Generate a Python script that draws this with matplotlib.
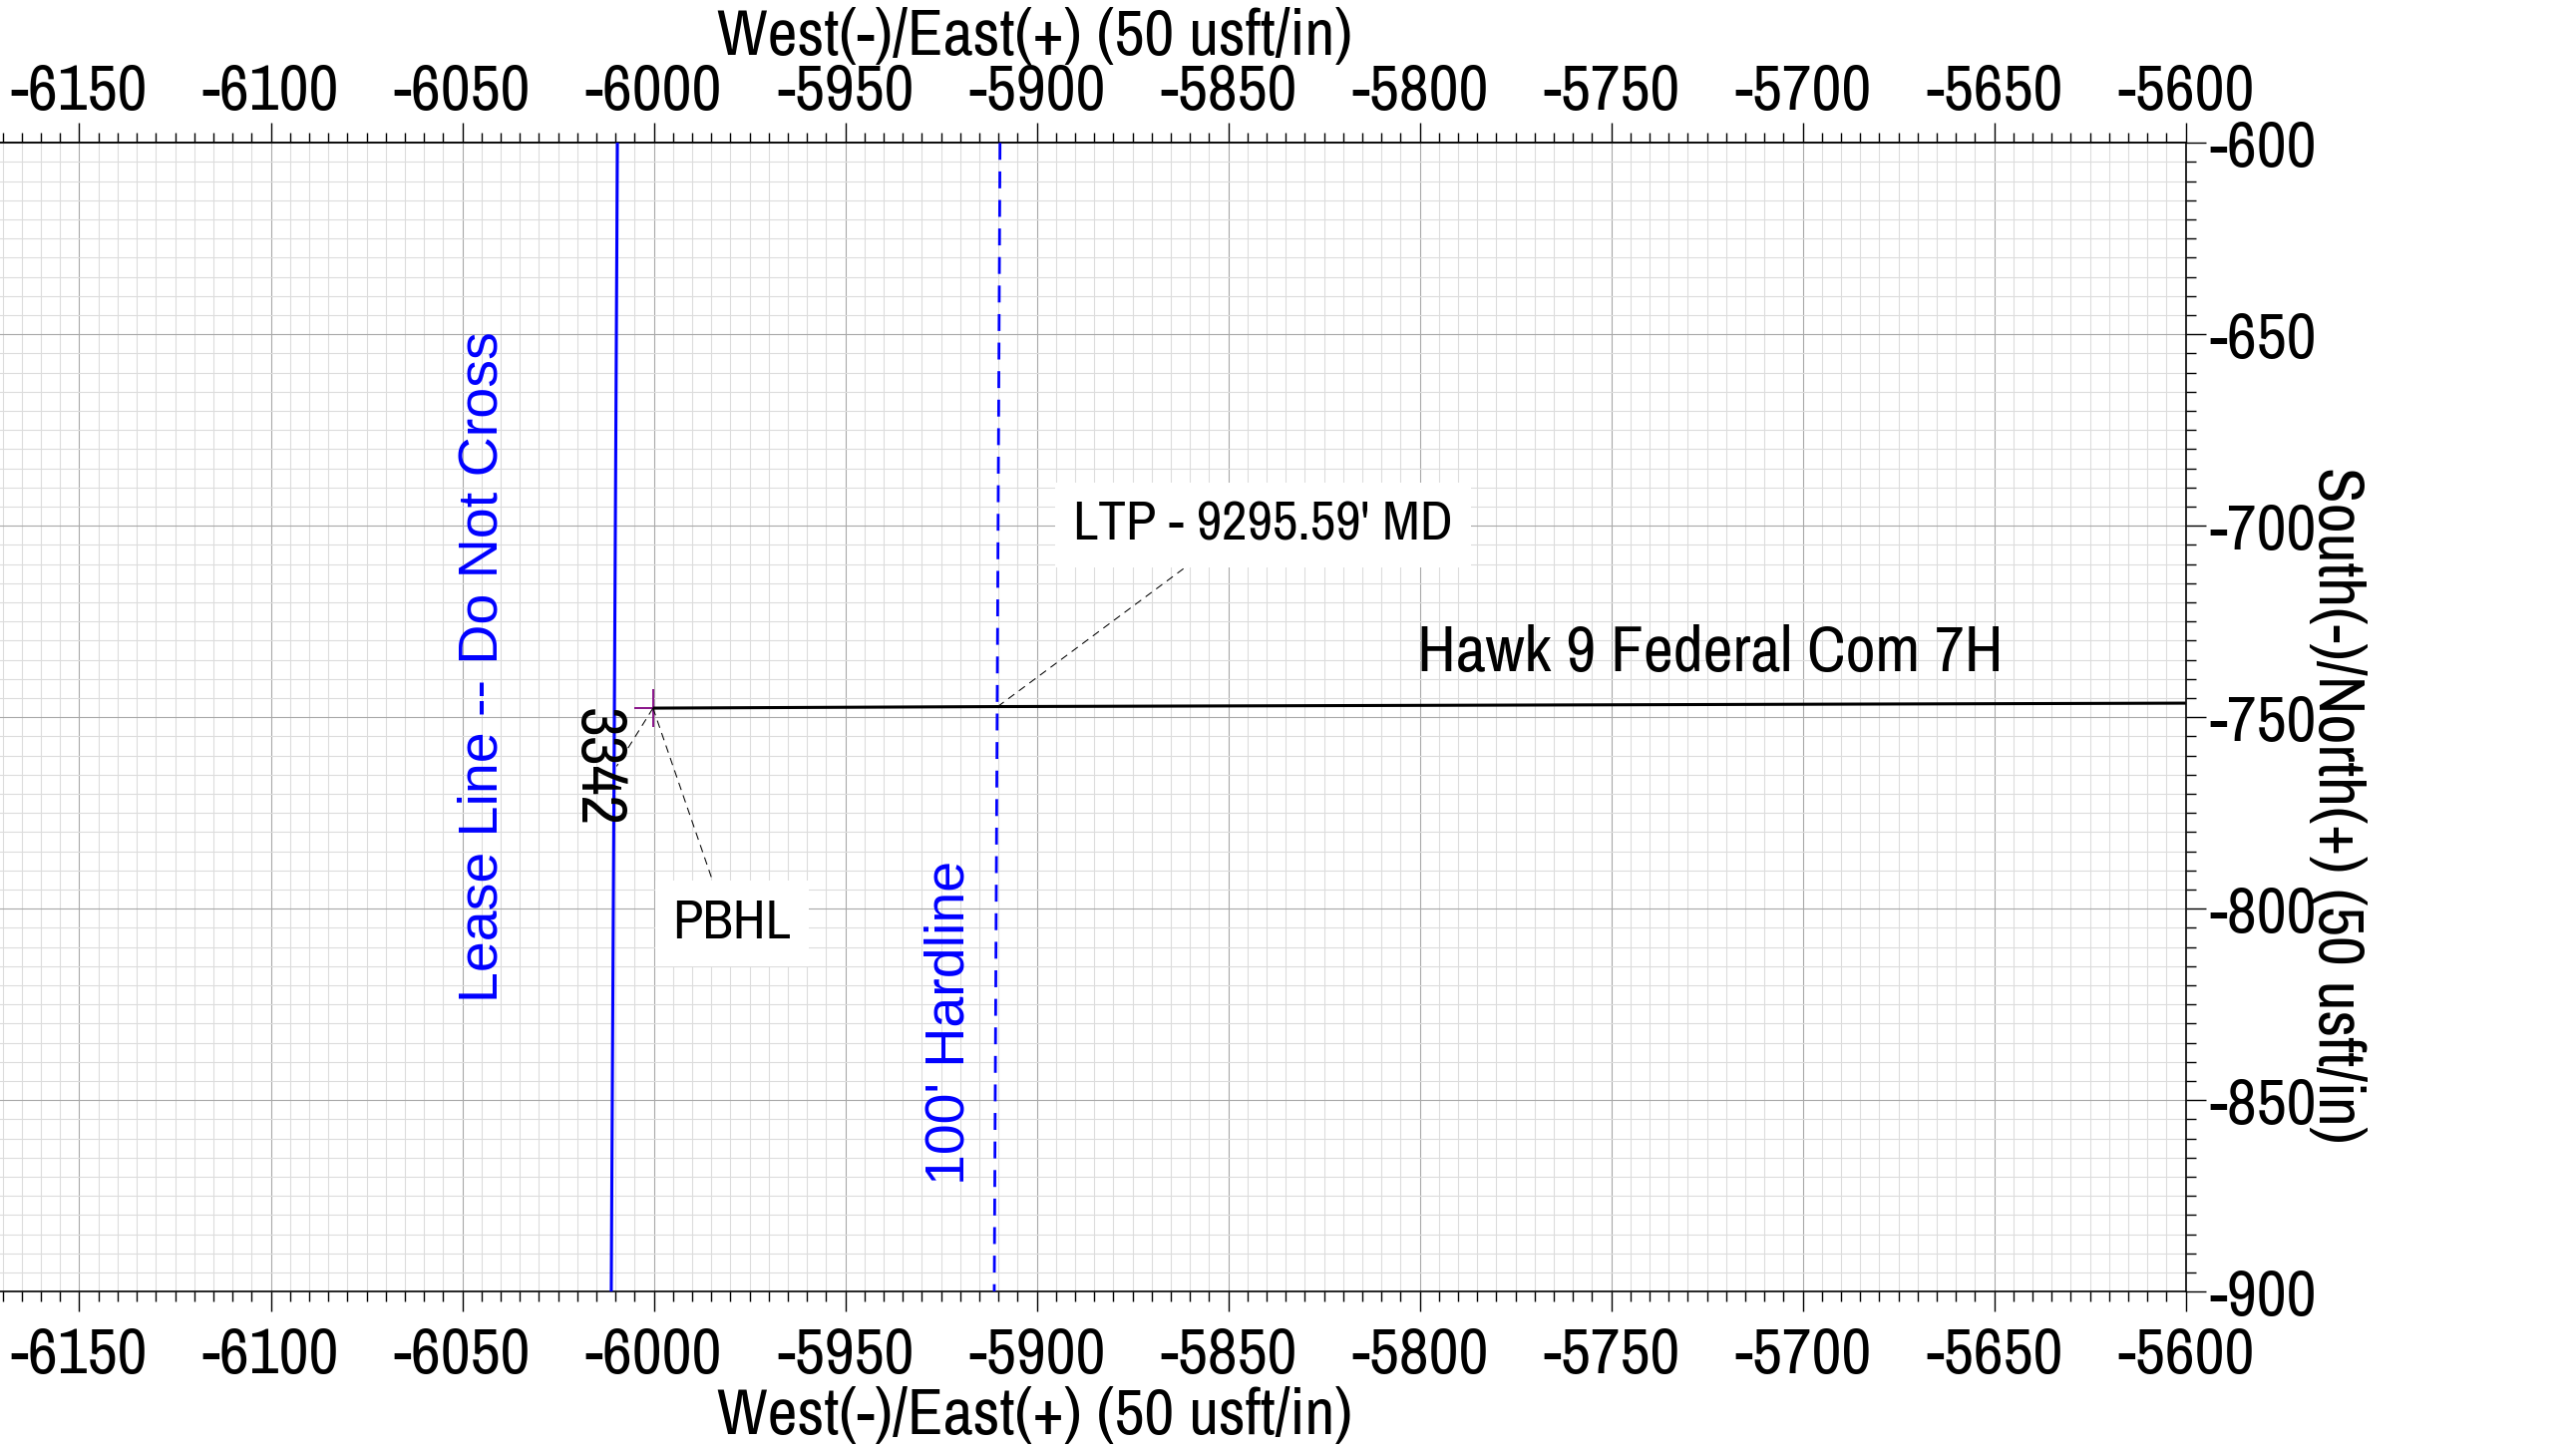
import matplotlib
matplotlib.use('Agg')
import matplotlib.pyplot as plt
from matplotlib.ticker import FixedLocator, MultipleLocator
from matplotlib import font_manager
from matplotlib.textpath import TextPath
from matplotlib.font_manager import FontProperties

# ---------------- data ----------------
x_ticks = [-6150, -6100, -6050, -6000, -5950, -5900, -5850, -5800,
           -5750, -5700, -5650, -5600]
y_ticks = [-900, -850, -800, -750, -700, -650, -600]

lease_e = [-6009.5, -6011.1]
lease_n = [-600.0, -900.0]
hard_e = [-5909.6, -5911.1]
hard_n = [-600.0, -900.0]
well_e = [-6000.2, -5910.2, -5600.0]
well_n = [-747.6, -747.2, -746.3]
pbhl_e, pbhl_n = -6000.2, -747.6
ltp_e, ltp_n = -5910.2, -747.2

well_name = 'Hawk 9 Federal Com 7H'
lease_label = 'Lease Line -- Do Not Cross'
hard_label = "100' Hardline"
pbhl_label = 'PBHL'
ltp_label = "LTP - 9295.59' MD"
lease_num = '3342'
x_label = 'West(-)/East(+) (50 usft/in)'
y_label = 'South(-)/North(+) (50 usft/in)'

# ---------------- fonts ----------------
names = {f.name for f in font_manager.fontManager.ttflist}
narrow_pref = ['Liberation Sans Narrow', 'Arial Narrow', 'Nimbus Sans Narrow',
               'Archivo Narrow', 'Roboto Condensed', 'PT Sans Narrow',
               'IBM Plex Sans Condensed', 'Liberation Sans', 'DejaVu Sans']
NARROW = [n for n in narrow_pref if n in names][:1] + ['DejaVu Sans']
REG = [n for n in ['Liberation Sans', 'DejaVu Sans'] if n in names]


def ink_width_px(s, family, size_pt):
    tp = TextPath((0, 0), s, size=size_pt, prop=FontProperties(family=family))
    return tp.get_extents().width * 100 / 72.0


# scale the narrow font so that tick label "-6150" is ~134 px wide
BIG = 46 * 134.0 / ink_width_px('-6150', NARROW, 46)
SMALL = BIG * 39.0 / 46.0

plt.rcParams['font.family'] = NARROW
plt.rcParams['axes.unicode_minus'] = False
plt.rcParams['lines.scale_dashes'] = False

BLUE = '#0000ff'
fig = plt.figure(figsize=(25.83, 14.53), dpi=100)
ax = fig.add_axes([0.0, 0.10854, 0.84851, 0.79284])
ax.set_xlim(-6170.7, -5600)
ax.set_ylim(-900, -600)

ax.xaxis.set_major_locator(FixedLocator(x_ticks))
ax.xaxis.set_minor_locator(MultipleLocator(5))
ax.yaxis.set_major_locator(FixedLocator(y_ticks))
ax.yaxis.set_minor_locator(MultipleLocator(5))
ax.grid(which='minor', color='#dcdcdc', lw=0.8)
ax.grid(which='major', color='#a8a8a8', lw=0.8)
ax.set_axisbelow(True)

ax.spines['left'].set_visible(False)
for s in ['top', 'bottom', 'right']:
    ax.spines[s].set_linewidth(1.2)
ax.yaxis.tick_right()
ax.tick_params(which='both', direction='out', color='black', width=1.0)
ax.tick_params(which='major', length=14.4, labelsize=BIG)
ax.tick_params(which='minor', length=7.2)
ax.tick_params(axis='x', which='major', pad=10.8)
ax.tick_params(axis='y', which='major', pad=2.4)

sec = ax.secondary_xaxis('top')
sec.xaxis.set_major_locator(FixedLocator(x_ticks))
sec.xaxis.set_minor_locator(MultipleLocator(5))
sec.tick_params(which='both', direction='out', color='black', width=1.0)
sec.tick_params(which='major', length=14.4, labelsize=BIG, pad=1.5)
sec.tick_params(which='minor', length=7.2)
sec.spines['top'].set_linewidth(1.2)

ax.set_xlabel(x_label, fontsize=BIG)
ax.xaxis.set_label_coords(0.4736, -0.0831)
sec.set_xlabel(x_label, fontsize=BIG)
sec.xaxis.set_label_coords(0.4736, 1.0766, transform=ax.transAxes)
sec.xaxis.label.set_va('baseline')

ax.yaxis.set_label_position('right')
ax.set_ylabel(y_label, fontsize=BIG, rotation=270)
ax.yaxis.set_label_coords(1.0608, 0.4239)
ax.yaxis.label.set_rotation_mode('anchor')
ax.yaxis.label.set_va('baseline')
ax.yaxis.label.set_ha('center')

# ---------------- marks ----------------
ax.plot(lease_e, lease_n, color=BLUE, lw=2.2, zorder=3)
ax.plot(hard_e, hard_n, color=BLUE, lw=2.0, dashes=(12.2, 8.4), zorder=3)
ax.plot([pbhl_e], [pbhl_n], marker='+', ms=27, mew=1.3, color='#800080', zorder=3)
ax.plot(well_e, well_n, color='black', lw=2.2, solid_capstyle='butt', zorder=4)

lead = dict(color='black', lw=0.75, dashes=(5.5, 4.0), zorder=3)
ax.plot([pbhl_e, -5984.95], [pbhl_n, -791.8], **lead)
ax.plot([pbhl_e, -6009.7], [pbhl_n, -762.8], **lead)
ax.plot([ltp_e, -5860.5], [ltp_n, -710.3], **lead)

box = dict(boxstyle='square,pad=0.32', fc='white', ec='none')
ax.text(-6040.8, -736.7, lease_label, rotation=90, rotation_mode='anchor',
        ha='center', va='baseline', color=BLUE, fontsize=40, family=REG, zorder=5)
ax.text(-5919.1, -829.6, hard_label, rotation=90, rotation_mode='anchor',
        ha='center', va='baseline', color=BLUE, fontsize=40, family=REG, zorder=5)
ax.text(-6019.4, -763.2, lease_num, rotation=270, rotation_mode='anchor',
        ha='center', va='baseline', color='black', fontsize=BIG, zorder=5)
ax.text(-5979.6, -807.7, pbhl_label, ha='center', va='baseline', fontsize=SMALL,
        bbox=box, zorder=5)
ax.text(-5840.9, -703.7, ltp_label, ha='center', va='baseline', fontsize=SMALL,
        bbox=box, zorder=5)
ax.text(-5800.7, -737.9, well_name, ha='left', va='baseline', fontsize=BIG, zorder=5)

fig.savefig('out.png', dpi=100)
